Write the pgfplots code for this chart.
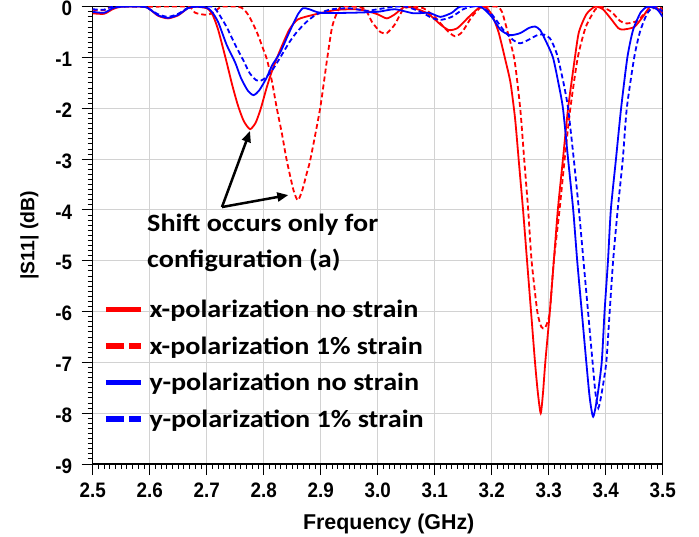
\documentclass[border=0pt]{standalone}
\usepackage{fontspec}
\setmainfont{Liberation Sans}
\newfontfamily\tickfont[FakeStretch=0.9]{Liberation Sans}
\newfontfamily\calib[FakeStretch=1.13]{Carlito}
\usepackage{pgfplots}
\pgfplotsset{compat=1.18}
\usetikzlibrary{arrows.meta}

\begin{document}
\begin{tikzpicture}
\useasboundingbox (-92.7bp,-73bp) rectangle (606.3bp,464bp);
\begin{axis}[
  scale only axis, width=570bp, height=457.3bp,
  xmin=2.5, xmax=3.5, ymin=-9, ymax=0,
  xtick={2.5,2.6,2.7,2.8,2.9,3.0,3.1,3.2,3.3,3.4,3.5},
  xticklabels={2.5,2.6,2.7,2.8,2.9,3.0,3.1,3.2,3.3,3.4,3.5},
  ytick={0,-1,-2,-3,-4,-5,-6,-7,-8,-9},
  yticklabels={0,-1,-2,-3,-4,-5,-6,-7,-8,-9},
  minor tick num=9,
  tick align=outside, xtick pos=bottom, ytick pos=left,
  major tick length=11bp, minor tick length=5bp,
  tick style={black, line width=0.9bp},
  axis line style={black, line width=1.2bp},
  grid=major, major grid style={gray!35, line width=1bp},
  tick label style={font=\tickfont\bfseries\fontsize{21}{21}\selectfont},
  xticklabel style={yshift=-4bp},
  yticklabel style={xshift=-6bp, yshift=-2bp},
  xlabel={Frequency (GHz)}, ylabel={|S11| (dB)},
  label style={font=\bfseries\fontsize{21.5}{21.5}\selectfont},
  xlabel style={xshift=11bp, yshift=-10bp},
  ylabel style={yshift=10bp, font=\bfseries\fontsize{19.5}{19.5}\selectfont},
  legend image code/.code={\draw[#1] (0bp,0bp) -- (35bp,0bp);},
  legend cell align=left,
  legend style={at={(rel axis cs:0.018,0.363)}, anchor=north west, draw=none, fill=none,
    font=\calib\bfseries\fontsize{25}{28}\selectfont, row sep=13.5bp, inner sep=0pt,
    /tikz/every odd column/.append style={column sep=4bp}},
  every axis plot/.append style={line width=1.8bp, smooth, tension=0.4},
]
\addlegendimage{red, line width=5.5bp}
\addlegendentry{x-polarization no strain}
\addlegendimage{red, line width=5.5bp, dash pattern=on 18bp off 5bp}
\addlegendentry{x-polarization 1\% strain}
\addlegendimage{blue, line width=5.5bp}
\addlegendentry{y-polarization no strain}
\addlegendimage{blue, line width=5.5bp, dash pattern=on 18bp off 5bp}
\addlegendentry{y-polarization 1\% strain}

% x-polarization, no strain
\addplot[red, forget plot] coordinates {
(2.5,-0.13) (2.52,-0.14) (2.535,-0.05) (2.55,0) (2.59,0) (2.6,-0.05) (2.615,-0.18) (2.632,-0.23) (2.65,-0.17) (2.667,-0.03) (2.68,0) (2.7,-0.03) (2.71,-0.15) (2.72,-0.45) (2.734,-1.05) (2.745,-1.55) (2.755,-1.95) (2.765,-2.25) (2.776,-2.41) (2.786,-2.28) (2.795,-2.0) (2.805,-1.6) (2.815,-1.25) (2.829,-0.85) (2.845,-0.45) (2.86,-0.25) (2.887,-0.16) (2.91,-0.1) (2.93,-0.06) (2.96,-0.05) (2.98,-0.08) (3.0,-0.15) (3.016,-0.23) (3.03,-0.15) (3.048,0) (3.07,-0.05) (3.09,-0.15) (3.11,-0.35) (3.125,-0.46) (3.14,-0.42) (3.16,-0.2) (3.18,0) (3.19,-0.02) (3.2,-0.15) (3.212,-0.5) (3.224,-1.05) (3.233,-1.5) (3.241,-2.2) (3.248,-3.1) (3.255,-4.0) (3.262,-5.0) (3.269,-6.0) (3.276,-7.0) (3.281,-7.6) (3.286,-8.0) (3.29,-7.6) (3.294,-7.0) (3.302,-6.0) (3.309,-5.0) (3.316,-4.0) (3.325,-3.0) (3.334,-2.0) (3.346,-1.0) (3.353,-0.5) (3.366,-0.15) (3.381,0) (3.395,-0.05) (3.41,-0.25) (3.422,-0.42) (3.43,-0.45) (3.45,-0.4) (3.465,-0.2) (3.478,0) (3.49,-0.03) (3.5,-0.12)
};
% x-polarization, 1% strain
\addplot[red, dash pattern=on 5bp off 3bp, forget plot] coordinates {
(2.5,-0.06) (2.52,-0.07) (2.535,0) (2.6,0) (2.667,0) (2.68,-0.12) (2.7,-0.16) (2.715,-0.1) (2.725,0) (2.755,0) (2.765,-0.05) (2.775,-0.2) (2.788,-0.5) (2.798,-0.8) (2.806,-1.05) (2.815,-1.5) (2.823,-2.0) (2.832,-2.5) (2.84,-3.0) (2.852,-3.6) (2.86,-3.81) (2.868,-3.6) (2.875,-3.3) (2.882,-3.0) (2.899,-2.0) (2.911,-1.05) (2.92,-0.4) (2.93,-0.08) (2.937,0) (2.96,0) (2.978,-0.05) (2.99,-0.3) (3.005,-0.5) (3.016,-0.52) (3.03,-0.35) (3.045,-0.05) (3.06,0) (3.08,-0.03) (3.1,-0.2) (3.12,-0.45) (3.135,-0.58) (3.148,-0.5) (3.165,-0.2) (3.18,-0.02) (3.19,0) (3.21,0) (3.218,-0.1) (3.228,-0.5) (3.24,-1.05) (3.25,-2.0) (3.257,-3.0) (3.264,-4.0) (3.27,-5.0) (3.28,-6.0) (3.287,-6.3) (3.293,-6.33) (3.298,-6.2) (3.302,-6.0) (3.309,-5.0) (3.319,-4.0) (3.328,-3.0) (3.338,-2.0) (3.351,-1.0) (3.365,-0.4) (3.382,-0.05) (3.392,0) (3.41,-0.1) (3.425,-0.28) (3.437,-0.33) (3.455,-0.28) (3.47,-0.12) (3.49,0) (3.5,-0.05)
};
% y-polarization, no strain
\addplot[blue, forget plot] coordinates {
(2.5,-0.1) (2.52,-0.12) (2.535,-0.03) (2.55,0) (2.59,0) (2.6,-0.05) (2.615,-0.17) (2.632,-0.22) (2.65,-0.16) (2.667,-0.03) (2.68,0) (2.7,-0.02) (2.709,-0.1) (2.72,-0.3) (2.735,-0.75) (2.75,-1.1) (2.76,-1.4) (2.772,-1.65) (2.782,-1.74) (2.792,-1.65) (2.805,-1.4) (2.815,-1.15) (2.829,-0.9) (2.845,-0.5) (2.86,-0.15) (2.869,-0.03) (2.88,-0.05) (2.9,-0.12) (2.95,-0.12) (3.0,-0.1) (3.03,-0.05) (3.063,-0.13) (3.09,-0.12) (3.11,-0.2) (3.13,-0.12) (3.145,0) (3.18,0) (3.2,-0.2) (3.215,-0.45) (3.232,-0.56) (3.25,-0.52) (3.265,-0.42) (3.276,-0.39) (3.285,-0.46) (3.296,-0.7) (3.3075,-1.0) (3.317,-1.5) (3.325,-2.0) (3.334,-3.0) (3.343,-4.0) (3.35,-5.0) (3.358,-6.0) (3.366,-7.0) (3.372,-7.7) (3.378,-8.07) (3.385,-7.7) (3.393,-7.0) (3.398,-6.0) (3.404,-5.0) (3.409,-4.0) (3.418,-3.0) (3.427,-2.0) (3.438,-1.0) (3.448,-0.46) (3.462,-0.1) (3.474,0) (3.49,-0.05) (3.5,-0.2)
};
% y-polarization, 1% strain
\addplot[blue, dash pattern=on 5bp off 3bp, forget plot] coordinates {
(2.5,-0.05) (2.52,-0.06) (2.535,0) (2.59,0) (2.6,-0.05) (2.615,-0.15) (2.632,-0.2) (2.65,-0.14) (2.667,-0.02) (2.68,0) (2.71,0) (2.72,-0.12) (2.735,-0.4) (2.75,-0.75) (2.764,-1.05) (2.775,-1.3) (2.786,-1.44) (2.794,-1.46) (2.803,-1.4) (2.815,-1.25) (2.829,-1.0) (2.845,-0.7) (2.858,-0.5) (2.875,-0.3) (2.89,-0.17) (2.904,-0.1) (2.92,-0.05) (2.95,-0.03) (2.98,-0.08) (3.0,-0.05) (3.03,0) (3.05,0) (3.075,-0.1) (3.095,-0.22) (3.11,-0.26) (3.13,-0.2) (3.15,-0.05) (3.165,0) (3.18,0) (3.2,-0.15) (3.22,-0.45) (3.237,-0.65) (3.25,-0.72) (3.265,-0.65) (3.28,-0.56) (3.292,-0.55) (3.302,-0.62) (3.31,-0.8) (3.316,-1.0) (3.326,-1.5) (3.334,-2.0) (3.344,-3.0) (3.353,-4.0) (3.361,-5.0) (3.369,-6.0) (3.377,-7.0) (3.382,-7.6) (3.387,-7.9) (3.393,-7.6) (3.401,-7.0) (3.407,-6.0) (3.413,-5.0) (3.421,-4.0) (3.43,-3.0) (3.437,-2.0) (3.45,-1.0) (3.46,-0.5) (3.472,-0.15) (3.483,0) (3.49,0) (3.5,-0.1)
};

\node[anchor=west, inner sep=0pt, font=\calib\bfseries\fontsize{25}{28}\selectfont] at (axis cs:2.5953,-4.297) {Shift occurs only for};
\node[anchor=west, inner sep=0pt, font=\calib\bfseries\fontsize{25}{28}\selectfont] at (axis cs:2.5953,-4.99) {configuration (a)};
\draw[line width=2.5bp, -{Triangle[length=11bp,width=9bp]}] (axis cs:2.7268,-3.943) -- (axis cs:2.776,-2.447);
\draw[line width=2.5bp, -{Triangle[length=11bp,width=9bp]}] (axis cs:2.7268,-3.943) -- (axis cs:2.8432,-3.707);
\end{axis}
\end{tikzpicture}
\end{document}
